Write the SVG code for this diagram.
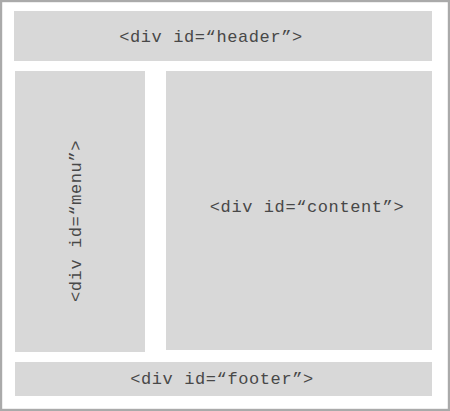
<svg xmlns="http://www.w3.org/2000/svg" width="450" height="411" viewBox="0 0 450 411">
<style>
.box{fill:#d8d8d8}
.lbl{font-family:"Liberation Mono","Courier New",monospace;font-size:17px;letter-spacing:0.6px;fill:#484848;text-anchor:middle}
</style>
<rect x="1.1" y="1.1" width="447.8" height="408.8" fill="#fff" stroke="#aaaaaa" stroke-width="2.2"/>
<g id="header"><rect class="box" x="14" y="11" width="418" height="50"/><text class="lbl" x="211" y="42">&lt;div id=“header”&gt;</text></g>
<g id="menu"><rect class="box" x="15" y="71" width="130" height="281"/><text class="lbl" transform="translate(81,221) rotate(-90)">&lt;div id=“menu”&gt;</text></g>
<g id="content"><rect class="box" x="166" y="71" width="266" height="279"/><text class="lbl" x="307" y="212">&lt;div id=“content”&gt;</text></g>
<g id="footer"><rect class="box" x="15" y="362" width="417" height="34"/><text class="lbl" x="222" y="384">&lt;div id=“footer”&gt;</text></g>
<g id="connectors"/>
</svg>
